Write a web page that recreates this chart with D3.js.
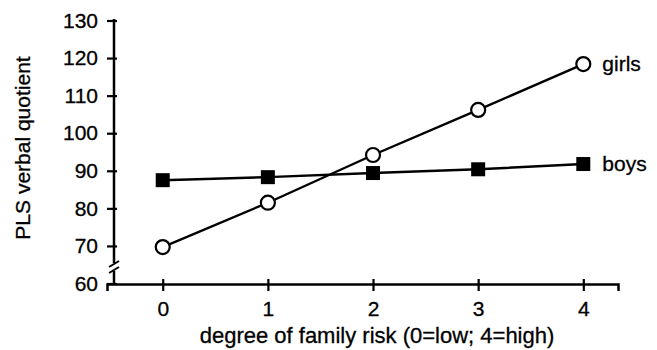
<!DOCTYPE html>
<html>
<head>
<meta charset="utf-8">
<script src="https://cdn.jsdelivr.net/npm/d3@7"></script>
<style>
  body { margin: 0; background: #fff; }
  svg { display: block; }
  text { font-family: "Liberation Sans", Arial, Helvetica, sans-serif; fill: #000; stroke: #000; stroke-width: 0.3; }
</style>
</head>
<body>
<div class="chart"></div>
<script>
const risk = [0, 1, 2, 3, 4];
const girls = [69.7, 81.5, 94.2, 106.2, 118.4];
const boys = [87.5, 88.3, 89.4, 90.4, 91.8];
const yTicks = [60, 70, 80, 90, 100, 110, 120, 130];
const seriesNames = ['girls', 'boys'];

const width = 657;
const height = 350;
const fontSize = 21;

const svg = d3.select('.chart').append('svg')
  .attr('width', width)
  .attr('height', height);

// scales: x axis line runs a bit past both end ticks
const x = d3.scaleLinear().domain([-0.53, 4.33]).range([107, 618]);
const y = d3.scaleLinear().domain([60, 130]).range([283.5, 20.5]);

const axisX = 114;
const axisY = 284;

// y axis (ticks cross the line)
const gy = svg.append('g')
  .attr('transform', 'translate(' + axisX + ',0)')
  .call(d3.axisLeft(y).tickValues(yTicks).tickSize(7).tickPadding(9));
gy.select('.domain').remove();
gy.selectAll('.tick line').attr('x1', 3).attr('stroke', '#000').attr('stroke-width', 2.2);
gy.selectAll('.tick text').attr('font-size', fontSize).attr('font-family', null);

// y axis line with a break between 60 and 70
svg.append('line')
  .attr('x1', axisX).attr('x2', axisX)
  .attr('y1', y(130) - 1.5).attr('y2', 263)
  .attr('stroke', '#000').attr('stroke-width', 2.5);
svg.append('line')
  .attr('x1', axisX).attr('x2', axisX)
  .attr('y1', 271).attr('y2', axisY)
  .attr('stroke', '#000').attr('stroke-width', 2.5);
[264, 270].forEach(function (b) {
  svg.append('line')
    .attr('x1', axisX - 5).attr('y1', b + 3)
    .attr('x2', axisX + 5).attr('y2', b - 3)
    .attr('stroke', '#000').attr('stroke-width', 2);
});

// x axis
const gx = svg.append('g')
  .attr('transform', 'translate(0,' + axisY + ')')
  .call(d3.axisBottom(x).tickValues(risk).tickFormat(d3.format('d')).tickSize(7).tickPadding(10));
gx.select('.domain').attr('stroke', '#000').attr('stroke-width', 2.5);
gx.selectAll('.tick line').attr('y1', -5).attr('stroke', '#000').attr('stroke-width', 2.2);
gx.selectAll('.tick text').attr('font-size', fontSize).attr('font-family', null);

// axis titles
svg.append('text')
  .attr('x', 377).attr('y', 343)
  .attr('text-anchor', 'middle')
  .attr('font-size', 22)
  .text('degree of family risk (0=low; 4=high)');

svg.append('text')
  .attr('transform', 'translate(30,148) rotate(-90)')
  .attr('text-anchor', 'middle')
  .attr('font-size', fontSize)
  .text('PLS verbal quotient');

// lines
const line = d3.line()
  .x(function (d, i) { return x(risk[i]); })
  .y(function (d) { return y(d); });

[girls, boys].forEach(function (s) {
  svg.append('path')
    .datum(s)
    .attr('d', line)
    .attr('fill', 'none')
    .attr('stroke', '#000')
    .attr('stroke-width', 2.4);
});

// boys markers: filled squares
svg.selectAll('rect.boys')
  .data(boys)
  .enter()
  .append('rect')
  .attr('class', 'boys')
  .attr('x', function (d, i) { return x(risk[i]) - 7; })
  .attr('y', function (d) { return y(d) - 7; })
  .attr('width', 14)
  .attr('height', 14)
  .attr('fill', '#000');

// girls markers: open circles
svg.selectAll('circle.girls')
  .data(girls)
  .enter()
  .append('circle')
  .attr('class', 'girls')
  .attr('cx', function (d, i) { return x(risk[i]); })
  .attr('cy', function (d) { return y(d); })
  .attr('r', 7)
  .attr('fill', '#fff')
  .attr('stroke', '#000')
  .attr('stroke-width', 2.2);

// series labels at the right end
svg.append('text')
  .attr('x', x(4) + 19).attr('y', y(girls[4]) + 7)
  .attr('font-size', fontSize)
  .text(seriesNames[0]);
svg.append('text')
  .attr('x', x(4) + 19).attr('y', y(boys[4]) + 7)
  .attr('font-size', fontSize)
  .text(seriesNames[1]);
</script>
</body>
</html>
